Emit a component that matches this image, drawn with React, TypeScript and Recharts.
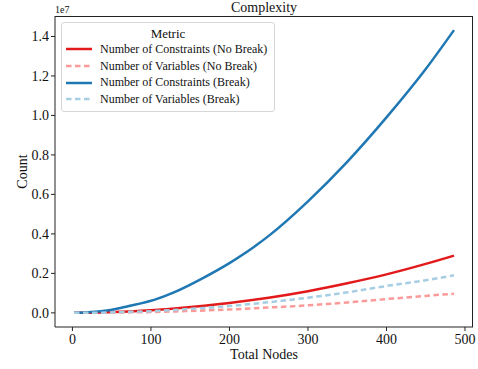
import { LineChart, Line, XAxis, YAxis, Label } from 'recharts';

const totalNodes = [2, 20, 44, 72, 105, 130, 168, 200, 250, 300, 350, 400, 450, 486];
const constraintsNoBreak = [0, 5000, 30000, 75000, 140000, 220000, 360000, 500000, 770000, 1100000, 1500000, 1950000, 2480000, 2900000];
const variablesNoBreak = [0, 2000, 10000, 25000, 45000, 75000, 120000, 170000, 270000, 380000, 530000, 700000, 860000, 970000];
const constraintsBreak = [0, 25000, 120000, 350000, 670000, 1050000, 1800000, 2520000, 3900000, 5650000, 7650000, 9900000, 12350000, 14320000];
const variablesBreak = [0, 3000, 15000, 45000, 90000, 150000, 250000, 350000, 540000, 770000, 1040000, 1360000, 1650000, 1900000];

const seriesInfo = [
  { key: 'cNoBreak', name: 'Number of Constraints (No Break)', color: '#e31a1c', dash: undefined },
  { key: 'vNoBreak', name: 'Number of Variables (No Break)', color: '#fb9a99', dash: '5.5 3.5' },
  { key: 'cBreak', name: 'Number of Constraints (Break)', color: '#1f78b4', dash: undefined },
  { key: 'vBreak', name: 'Number of Variables (Break)', color: '#a6cee3', dash: '5.5 3.5' },
];

const data = totalNodes.map((n, i) => ({
  nodes: n,
  cNoBreak: constraintsNoBreak[i],
  vNoBreak: variablesNoBreak[i],
  cBreak: constraintsBreak[i],
  vBreak: variablesBreak[i],
}));

const xTicks = [0, 100, 200, 300, 400, 500];
const yTicks = [0, 2000000, 4000000, 6000000, 8000000, 10000000, 12000000, 14000000];

const font = '"Liberation Serif", "DejaVu Serif", serif';
const axisColor = '#222';

export default function App() {
  return (
    <div style={{ position: 'absolute', left: 0, top: 0, width: 478, height: 369, fontFamily: font, background: '#fff' }}>
      <LineChart width={478} height={369} data={data} margin={{ top: 16, right: 5, left: 0, bottom: 0 }}>
        <XAxis
          dataKey="nodes"
          type="number"
          domain={[-22.2, 510.2]}
          ticks={xTicks}
          allowDataOverflow
          height={42}
          tickSize={4}
          tickMargin={3}
          stroke={axisColor}
          tick={{ fill: '#111', fontSize: 14, fontFamily: font }}
        >
          <Label
            content={() => (
              <text x={264} y={359} textAnchor="middle" fontSize={14} fontFamily={font} fill="#111">
                Total Nodes
              </text>
            )}
          />
        </XAxis>
        <YAxis
          type="number"
          domain={[-716000, 15036000]}
          ticks={yTicks}
          allowDataOverflow
          width={55}
          tickSize={4}
          tickMargin={2}
          stroke={axisColor}
          tickFormatter={(v: number) => (v / 1e7).toFixed(1)}
          tick={{ fill: '#111', fontSize: 14, fontFamily: font }}
        >
          <Label
            content={() => (
              <text x={27} y={171.5} textAnchor="middle" fontSize={14} fontFamily={font} fill="#111" transform="rotate(-90 27 171.5)">
                Count
              </text>
            )}
          />
        </YAxis>
        {seriesInfo.map((s) => (
          <Line
            key={s.key}
            dataKey={s.key}
            name={s.name}
            stroke={s.color}
            strokeWidth={2.5}
            strokeDasharray={s.dash}
            dot={false}
            type="monotone"
            isAnimationActive={false}
          />
        ))}
      </LineChart>
      {/* box spines on top and right */}
      <div style={{ position: 'absolute', left: 55, top: 16, width: 418, height: 311, boxSizing: 'border-box', borderTop: `1px solid ${axisColor}`, borderRight: `1px solid ${axisColor}`, pointerEvents: 'none' }} />
      <div style={{ position: 'absolute', left: 0, top: 0, width: 528, textAlign: 'center', fontSize: 14, lineHeight: '16px', color: '#111' }}>
        Complexity
      </div>
      <div style={{ position: 'absolute', left: 55, top: 4, fontSize: 10, lineHeight: '12px', color: '#111' }}>1e7</div>
      <div
        style={{
          position: 'absolute',
          left: 61,
          top: 22,
          width: 212,
          height: 88,
          border: '1px solid #d6d6d6',
          borderRadius: 3,
          background: 'rgba(255,255,255,0.85)',
          fontSize: 12,
          fontFamily: font,
          color: '#111',
        }}
      >
        <div style={{ textAlign: 'center', fontSize: 13, lineHeight: '15px', marginTop: 3 }}>Metric</div>
        {seriesInfo.map((s) => (
          <div key={s.key} style={{ display: 'flex', alignItems: 'center', height: 16.7, whiteSpace: 'nowrap' }}>
            <svg width={38} height={10} style={{ flex: 'none' }}>
              <line x1={4} x2={30} y1={5} y2={5} stroke={s.color} strokeWidth={2.5} strokeDasharray={s.dash} />
            </svg>
            <span style={{ fontFamily: font }}>{s.name}</span>
          </div>
        ))}
      </div>
    </div>
  );
}
